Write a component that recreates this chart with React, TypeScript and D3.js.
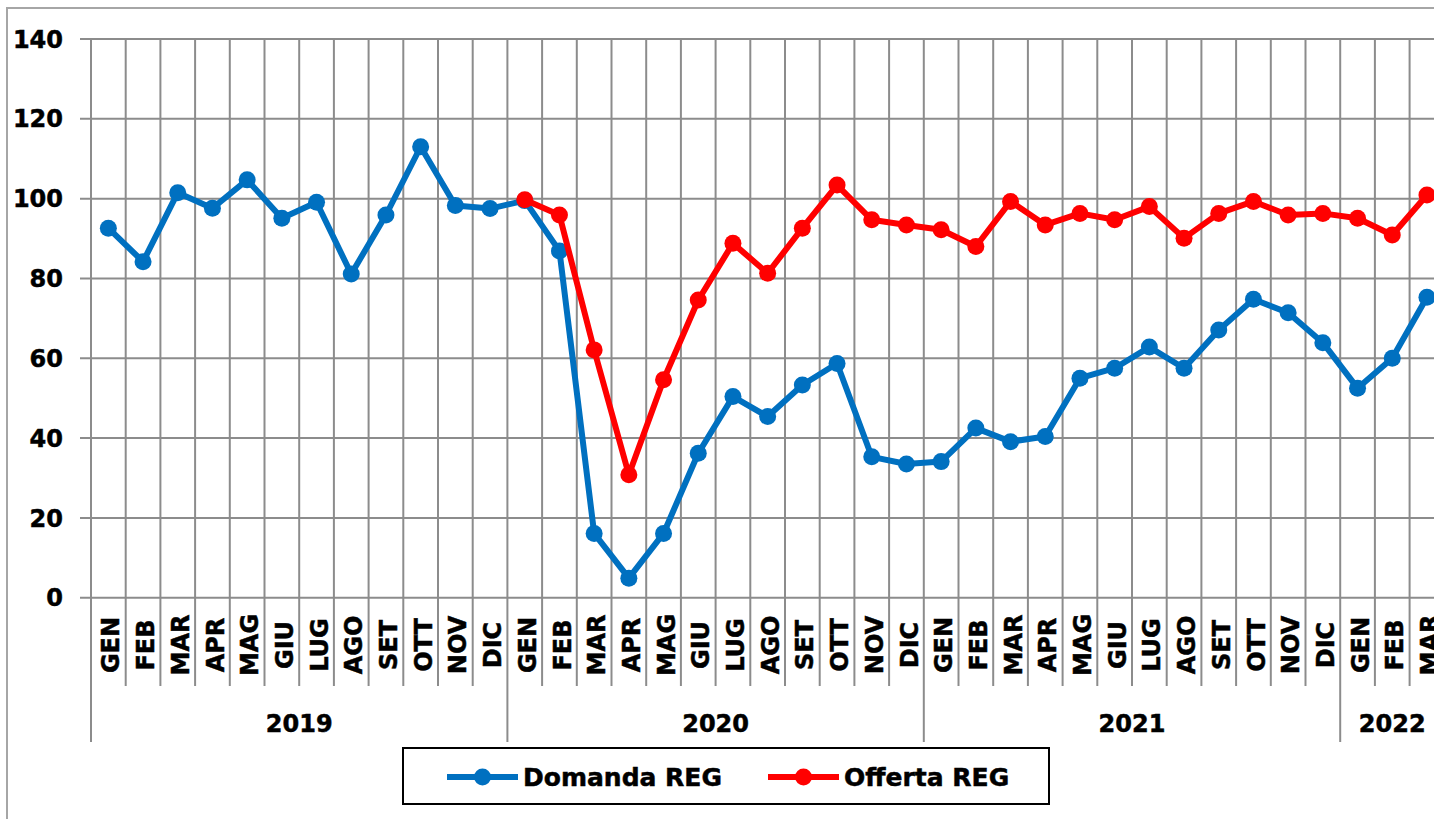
import React from "react";
import * as d3 from "d3";

const monthNames = ["GEN", "FEB", "MAR", "APR", "MAG", "GIU", "LUG", "AGO", "SET", "OTT", "NOV", "DIC"];
const yearLabels = ["2019", "2020", "2021", "2022"];
const yearMonthCounts = [12, 12, 12, 3];

const domanda = [
  92.6, 84.2, 101.5, 97.6, 104.7, 95.1, 99.1, 81.1, 95.9, 113.0, 98.3, 97.5,
  99.5, 86.9, 16.1, 4.9, 16.1, 36.2, 50.4, 45.4, 53.3, 58.7, 35.3, 33.5,
  34.1, 42.5, 39.1, 40.4, 55.0, 57.5, 62.8, 57.5, 67.1, 74.8, 71.4, 63.9,
  52.5, 60.0, 75.3,
];
const offerta: (number | null)[] = [
  null, null, null, null, null, null, null, null, null, null, null, null,
  99.7, 95.9, 62.1, 30.8, 54.6, 74.6, 88.8, 81.3, 92.6, 103.4, 94.7, 93.4,
  92.2, 88.0, 99.3, 93.4, 96.3, 94.7, 98.0, 90.1, 96.3, 99.3, 95.9, 96.3,
  95.1, 90.9, 100.9,
];
const yTicks = [0, 20, 40, 60, 80, 100, 120, 140];
const seriesNames = ["Domanda REG", "Offerta REG"];
const seriesColors = ["#0070C0", "#FF0000"];

const W = 1434;
const H = 819;
const FONT = "'DejaVu Sans', Verdana, sans-serif";

export default function App() {
  const categories: { month: string; yearIdx: number }[] = [];
  yearMonthCounts.forEach((n, yi) => {
    for (let m = 0; m < n; m++) categories.push({ month: monthNames[m], yearIdx: yi });
  });
  const idx = categories.map((_, i) => i);
  const step = 34.7;
  const left = 91;
  const x = d3.scaleBand<number>().domain(idx).range([left, left + step * categories.length]).padding(0);
  const y = d3.scaleLinear().domain([0, 140]).range([597.7, 39]);
  const cx = (i: number) => (x(i) as number) + x.bandwidth() / 2;

  const line = d3
    .line<number | null>()
    .defined((d) => d !== null)
    .x((_, i) => cx(i))
    .y((d) => y(d as number));

  const grid = "#8c8c8c";
  const bottom = y(0);
  const boundaries = d3.range(categories.length + 1);
  const yearStarts: number[] = [];
  let acc = 0;
  yearMonthCounts.forEach((n) => {
    yearStarts.push(acc);
    acc += n;
  });

  const series = [domanda, offerta];
  const txt = { fontSize: 24, fontWeight: "bold" as const, fill: "#000", stroke: "#000", strokeWidth: 0.5 };

  return (
    <svg
      width={W}
      height={H}
      style={{ position: "absolute", left: 0, top: 0, background: "#fff" }}
      fontFamily={FONT}
    >
      <rect x={0} y={0} width={W} height={H} fill="#fff" />
      {/* outer chart border */}
      <rect x={7} y={8} width={W + 20} height={H + 20} fill="none" stroke="#a6a6a6" strokeWidth={2} />

      {/* horizontal gridlines */}
      {yTicks.map((t) => (
        <line key={"h" + t} x1={80} x2={W} y1={y(t)} y2={y(t)} stroke={grid} strokeWidth={2} />
      ))}
      {/* vertical gridlines + category ticks */}
      {boundaries.map((b) => {
        const xx = b < categories.length ? (x(b) as number) : left + step * categories.length;
        const isYear = yearStarts.includes(b) || b === categories.length;
        return (
          <g key={"v" + b}>
            <line x1={xx} x2={xx} y1={y(140)} y2={bottom} stroke={grid} strokeWidth={2} />
            <line x1={xx} x2={xx} y1={bottom} y2={isYear ? 742 : 686} stroke={grid} strokeWidth={2} />
          </g>
        );
      })}

      {/* y tick labels */}
      {yTicks.map((t) => (
        <text key={"yl" + t} x={63} y={y(t)} dy="0.36em" textAnchor="end" {...txt}>
          {t}
        </text>
      ))}

      {/* month labels */}
      {categories.map((c, i) => (
        <text
          key={"m" + i}
          transform={`translate(${cx(i) + 2.5},645) rotate(-90)`}
          textAnchor="middle"
          dy="0.36em"
          {...txt}
        >
          {c.month}
        </text>
      ))}

      {/* year labels */}
      {yearLabels.map((yl, yi) => {
        const s = yearStarts[yi];
        const n = yearMonthCounts[yi];
        const xc = left + step * (s + n / 2);
        return (
          <text key={"y" + yl} x={xc} y={723} dy="0.36em" textAnchor="middle" {...txt}>
            {yl}
          </text>
        );
      })}

      {/* series */}
      {series.map((s, si) => (
        <g key={"s" + si}>
          <path d={line(s) || ""} fill="none" stroke={seriesColors[si]} strokeWidth={6} strokeLinejoin="round" />
          {s.map((v, i) =>
            v === null ? null : <circle key={i} cx={cx(i)} cy={y(v)} r={8.5} fill={seriesColors[si]} />
          )}
        </g>
      ))}

      {/* legend */}
      <rect x={403} y={748} width={646} height={56} fill="#fff" stroke="#000" strokeWidth={2} />
      {seriesNames.map((name, si) => {
        const lx = si === 0 ? 447 : 768;
        return (
          <g key={"lg" + si}>
            <line x1={lx} x2={lx + 71} y1={777} y2={777} stroke={seriesColors[si]} strokeWidth={6} />
            <circle cx={lx + 35.5} cy={777} r={8.5} fill={seriesColors[si]} />
            <text x={lx + 76} y={777} dy="0.36em" {...txt} fontSize={25}>
              {name}
            </text>
          </g>
        );
      })}
    </svg>
  );
}
